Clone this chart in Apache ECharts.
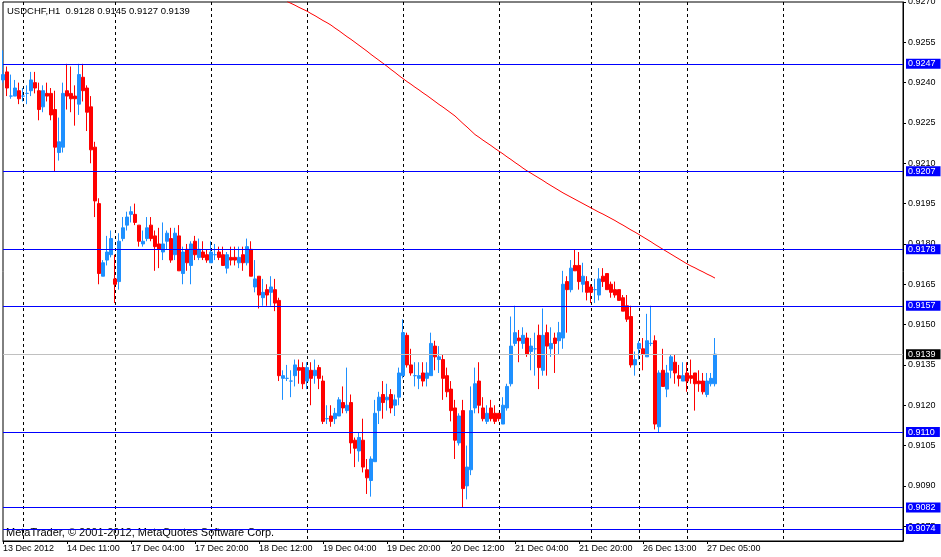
<!DOCTYPE html>
<html><head><meta charset="utf-8">
<script src="https://cdn.jsdelivr.net/npm/echarts@6/dist/echarts.min.js"></script>
<style>html,body{margin:0;padding:0;background:#fff}#c{width:941px;height:557px}</style>
</head><body><div id="c"></div>
<script>
// trading sessions of the H1 chart (day, first hour, last hour)
const sessions = [['13 Dec',19,23],['14 Dec',0,22],['17 Dec',0,23],['18 Dec',0,23],['19 Dec',0,23],
  ['20 Dec',0,23],['21 Dec',0,22],['24 Dec',0,11],['26 Dec',12,23],['27 Dec',0,23],['28 Dec',0,23],['31 Dec',0,6]];
// day separators drawn as dashed verticals
const gridDays = ['14 Dec','17 Dec','18 Dec','19 Dec','20 Dec','21 Dec','24 Dec','26 Dec','27 Dec','28 Dec'];
// bottom axis labels: bar where they sit, and text shown
const tickBars  = ['13 Dec 19:00','14 Dec 11:00','17 Dec 04:00','17 Dec 20:00','18 Dec 12:00','19 Dec 04:00',
  '19 Dec 20:00','20 Dec 12:00','21 Dec 04:00','21 Dec 20:00','26 Dec 13:00','27 Dec 05:00'];
const tickTexts = ['13 Dec 2012','14 Dec 11:00','17 Dec 04:00','17 Dec 20:00','18 Dec 12:00','19 Dec 04:00',
  '19 Dec 20:00','20 Dec 12:00','21 Dec 04:00','21 Dec 20:00','26 Dec 13:00','27 Dec 05:00'];
// price scale labels
const yTicks = [0.9075,0.9090,0.9105,0.9120,0.9135,0.9150,0.9165,0.9180,0.9195,0.9210,0.9225,0.9240,0.9255,0.9270];
// horizontal levels
const levels = [0.9247,0.9207,0.9178,0.9157,0.9110,0.9082,0.9074];

const open = [
0.9241,0.9244,0.9235,0.9235,0.9237,0.9235,0.9236,0.9237,0.9240,0.9237,
0.9231,0.9236,0.9236,0.9230,0.9214,0.9216,0.9237,0.9236,0.9235,0.9232,
0.9242,0.9238,0.9231,0.9216,0.9195,0.9168,0.9174,0.9176,0.9167,0.9166,
0.9182,0.9187,0.9191,0.9191,0.9187,0.9180,0.9182,0.9187,0.9183,0.9180,
0.9177,0.9181,0.9182,0.9176,0.9183,0.9169,0.9178,0.9172,0.9181,0.9175,
0.9177,0.9176,0.9173,0.9176,0.9177,0.9176,0.9171,0.9175,0.9175,0.9173,
0.9176,0.9173,0.9178,0.9164,0.9168,0.9160,0.9163,0.9162,0.9163,0.9159,
0.9130,0.9130,0.9129,0.9131,0.9134,0.9134,0.9129,0.9133,0.9131,0.9134,
0.9129,0.9115,0.9116,0.9115,0.9116,0.9121,0.9118,0.9121,0.9107,0.9103,
0.9107,0.9096,0.9092,0.9099,0.9118,0.9124,0.9122,0.9124,0.9120,0.9123,
0.9131,0.9146,0.9135,0.9131,0.9130,0.9132,0.9130,0.9131,0.9142,0.9137,
0.9137,0.9131,0.9126,0.9119,0.9106,0.9118,0.9090,0.9096,0.9119,0.9129,
0.9119,0.9114,0.9119,0.9117,0.9117,0.9113,0.9119,0.9128,0.9143,0.9145,
0.9143,0.9145,0.9140,0.9141,0.9146,0.9133,0.9147,0.9141,0.9145,0.9144,
0.9145,0.9166,0.9163,0.9172,0.9172,0.9165,0.9166,0.9164,0.9163,0.9161,
0.9168,0.9169,0.9165,0.9163,0.9163,0.9160,0.9157,0.9153,0.9135,0.9141,
0.9141,0.9138,0.9143,0.9144,0.9112,0.9133,0.9126,0.9133,0.9136,0.9131,
0.9129,0.9132,0.9131,0.9132,0.9129,0.9129,0.9124,0.9128,0.9128];
const high = [
0.9252,0.9246,0.9243,0.9241,0.9240,0.9238,0.9239,0.9244,0.9244,0.9240,
0.9239,0.9240,0.9238,0.9237,0.9227,0.9240,0.9247,0.9246,0.9239,0.9247,
0.9247,0.9239,0.9235,0.9218,0.9197,0.9174,0.9183,0.9185,0.9176,0.9184,
0.9190,0.9192,0.9194,0.9195,0.9187,0.9185,0.9190,0.9190,0.9185,0.9186,
0.9188,0.9185,0.9186,0.9186,0.9187,0.9179,0.9180,0.9181,0.9183,0.9182,
0.9181,0.9178,0.9181,0.9180,0.9179,0.9179,0.9177,0.9179,0.9179,0.9179,
0.9179,0.9182,0.9181,0.9174,0.9168,0.9167,0.9165,0.9168,0.9167,0.9160,
0.9133,0.9135,0.9133,0.9137,0.9137,0.9136,0.9136,0.9136,0.9137,0.9135,
0.9131,0.9120,0.9120,0.9119,0.9123,0.9127,0.9134,0.9124,0.9108,0.9110,
0.9115,0.9100,0.9101,0.9122,0.9125,0.9129,0.9128,0.9126,0.9124,0.9134,
0.9152,0.9147,0.9141,0.9136,0.9136,0.9136,0.9136,0.9147,0.9144,0.9142,
0.9139,0.9134,0.9129,0.9122,0.9117,0.9122,0.9105,0.9127,0.9134,0.9136,
0.9123,0.9120,0.9122,0.9120,0.9117,0.9123,0.9128,0.9153,0.9157,0.9148,
0.9149,0.9147,0.9145,0.9147,0.9150,0.9156,0.9150,0.9149,0.9147,0.9151,
0.9170,0.9168,0.9174,0.9178,0.9177,0.9173,0.9168,0.9165,0.9167,0.9171,
0.9171,0.9169,0.9166,0.9166,0.9163,0.9161,0.9161,0.9157,0.9140,0.9144,
0.9145,0.9154,0.9157,0.9146,0.9133,0.9141,0.9135,0.9139,0.9139,0.9135,
0.9136,0.9136,0.9137,0.9132,0.9133,0.9132,0.9132,0.9132,0.9145];
const low = [
0.9240,0.9235,0.9234,0.9235,0.9232,0.9233,0.9232,0.9235,0.9236,0.9226,
0.9229,0.9233,0.9226,0.9207,0.9211,0.9214,0.9230,0.9229,0.9224,0.9228,
0.9233,0.9222,0.9210,0.9190,0.9165,0.9168,0.9172,0.9175,0.9158,0.9163,
0.9181,0.9185,0.9188,0.9187,0.9179,0.9179,0.9181,0.9181,0.9170,0.9171,
0.9174,0.9178,0.9173,0.9174,0.9170,0.9165,0.9170,0.9165,0.9174,0.9174,
0.9174,0.9173,0.9173,0.9174,0.9174,0.9172,0.9169,0.9172,0.9172,0.9171,
0.9170,0.9172,0.9168,0.9162,0.9156,0.9157,0.9157,0.9157,0.9155,0.9129,
0.9122,0.9129,0.9123,0.9127,0.9128,0.9126,0.9126,0.9120,0.9128,0.9126,
0.9113,0.9113,0.9112,0.9113,0.9116,0.9117,0.9117,0.9102,0.9097,0.9099,
0.9095,0.9087,0.9086,0.9099,0.9113,0.9115,0.9118,0.9117,0.9116,0.9120,
0.9130,0.9134,0.9131,0.9127,0.9126,0.9127,0.9127,0.9131,0.9133,0.9132,
0.9122,0.9123,0.9114,0.9100,0.9105,0.9082,0.9085,0.9094,0.9117,0.9117,
0.9114,0.9113,0.9114,0.9113,0.9114,0.9113,0.9118,0.9127,0.9142,0.9136,
0.9141,0.9138,0.9133,0.9131,0.9126,0.9131,0.9131,0.9138,0.9132,0.9139,
0.9141,0.9147,0.9162,0.9170,0.9163,0.9162,0.9159,0.9158,0.9158,0.9159,
0.9164,0.9163,0.9160,0.9160,0.9159,0.9155,0.9151,0.9134,0.9131,0.9137,
0.9133,0.9138,0.9142,0.9111,0.9110,0.9127,0.9123,0.9130,0.9128,0.9127,
0.9129,0.9125,0.9128,0.9118,0.9125,0.9124,0.9123,0.9127,0.9127];
const close = [
0.9243,0.9238,0.9235,0.9238,0.9234,0.9235,0.9236,0.9241,0.9238,0.9230,
0.9237,0.9235,0.9228,0.9216,0.9218,0.9236,0.9235,0.9234,0.9234,0.9243,
0.9237,0.9229,0.9215,0.9196,0.9169,0.9173,0.9177,0.9182,0.9165,0.9181,
0.9186,0.9190,0.9192,0.9188,0.9181,0.9181,0.9186,0.9182,0.9179,0.9178,
0.9180,0.9184,0.9174,0.9184,0.9170,0.9177,0.9173,0.9180,0.9176,0.9178,
0.9175,0.9174,0.9177,0.9176,0.9175,0.9172,0.9176,0.9174,0.9174,0.9175,
0.9173,0.9179,0.9168,0.9167,0.9161,0.9162,0.9161,0.9164,0.9158,0.9131,
0.9131,0.9130,0.9129,0.9135,0.9133,0.9128,0.9134,0.9130,0.9133,0.9130,
0.9114,0.9115,0.9114,0.9117,0.9122,0.9119,0.9120,0.9106,0.9104,0.9108,
0.9097,0.9093,0.9100,0.9117,0.9123,0.9121,0.9123,0.9119,0.9122,0.9132,
0.9147,0.9135,0.9132,0.9131,0.9131,0.9129,0.9132,0.9143,0.9138,0.9138,
0.9130,0.9125,0.9118,0.9107,0.9116,0.9089,0.9097,0.9118,0.9128,0.9120,
0.9115,0.9117,0.9115,0.9114,0.9115,0.9120,0.9127,0.9142,0.9147,0.9144,
0.9146,0.9139,0.9142,0.9141,0.9134,0.9146,0.9142,0.9143,0.9143,0.9147,
0.9165,0.9163,0.9171,0.9170,0.9166,0.9168,0.9162,0.9162,0.9163,0.9167,
0.9166,0.9163,0.9162,0.9161,0.9159,0.9155,0.9152,0.9135,0.9137,0.9143,
0.9139,0.9144,0.9143,0.9113,0.9132,0.9127,0.9132,0.9138,0.9132,0.9130,
0.9131,0.9129,0.9130,0.9128,0.9128,0.9125,0.9129,0.9130,0.9139];
// red moving average, first value at bar '18 Dec 19:00'
const maFrom = '18 Dec 19:00';
const ma = [
0.92702,0.92695,0.92688,0.92680,0.92673,0.92666,0.92657,0.92649,0.92640,0.92631,
0.92623,0.92614,0.92603,0.92593,0.92582,0.92571,0.92561,0.92550,0.92539,0.92528,
0.92517,0.92505,0.92494,0.92483,0.92472,0.92461,0.92449,0.92438,0.92426,0.92415,
0.92404,0.92394,0.92383,0.92373,0.92362,0.92352,0.92341,0.92330,0.92319,0.92309,
0.92298,0.92287,0.92276,0.92262,0.92248,0.92235,0.92221,0.92207,0.92197,0.92186,
0.92176,0.92166,0.92155,0.92145,0.92135,0.92124,0.92114,0.92103,0.92093,0.92082,
0.92072,0.92063,0.92054,0.92045,0.92036,0.92026,0.92017,0.92008,0.91999,0.91990,
0.91982,0.91974,0.91966,0.91958,0.91950,0.91942,0.91934,0.91926,0.91918,0.91911,
0.91903,0.91895,0.91887,0.91878,0.91870,0.91861,0.91852,0.91844,0.91835,0.91826,
0.91817,0.91808,0.91798,0.91789,0.91780,0.91771,0.91762,0.91753,0.91744,0.91735,
0.91726,0.91718,0.91711,0.91703,0.91696,0.91688,0.91681,0.91673];

const pad = h => (h < 10 ? '0' : '') + h + ':00';
const categories = [];
const dayStart = {};
sessions.forEach(([d, a, b]) => {
  dayStart[categories.length] = d;
  for (let h = a; h <= b; h++) categories.push(d + ' ' + pad(h));
});
const gridIdx = new Set(Object.keys(dayStart).map(Number).filter(i => gridDays.includes(dayStart[i])));
const tickIdx = {};
tickBars.forEach((c, k) => { tickIdx[categories.indexOf(c)] = tickTexts[k]; });

const n = open.length;
const ohlc = open.map((o, i) => [o, close[i], low[i], high[i]]);
const maStart = categories.indexOf(maFrom);
const maData = categories.map((c, i) => (i >= maStart && i - maStart < ma.length) ? ma[i - maStart] : null);

const FONT = 'Liberation Sans';
const YMIN = 0.90695, YMAX = 0.9270;
const f4 = v => Number(v).toFixed(4);

// an extra price axis whose split lines draw horizontal price lines with boxed labels
const lineAxis = (values, lineColor, boxColor) => ({
  type: 'value', position: 'right', min: YMIN, max: YMAX, z: 5,
  axisLine: { show: false },
  axisTick: { show: false, customValues: values },
  axisLabel: {
    customValues: values, formatter: v => f4(v), margin: 3,
    backgroundColor: boxColor, color: '#fff', fontFamily: FONT, fontSize: 9, lineHeight: 9,
    padding: [1, 5, 0, 2]
  },
  splitLine: { show: true, lineStyle: { color: lineColor, width: 1, type: 'solid' } }
});

const chart = echarts.init(document.getElementById('c'));
chart.setOption({
  animation: false,
  backgroundColor: '#ffffff',
  title: {
    text: 'USDCHF,H1  ' + [open[n-1], high[n-1], low[n-1], close[n-1]].map(f4).join(' '),
    left: 7, top: 6, padding: 0,
    textStyle: { fontSize: 9.5, fontWeight: 'normal', color: '#000', fontFamily: FONT }
  },
  graphic: [{
    type: 'text', left: 6, top: 527, silent: true,
    style: { text: 'MetaTrader, © 2001-2012, MetaQuotes Software Corp.', font: "11px 'Liberation Sans'", fill: '#000' }
  }],
  grid: { left: 3, right: 38, top: 2, bottom: 16, show: true, borderColor: '#000', borderWidth: 1,
          containLabel: false, outerBoundsMode: 'none' },
  xAxis: {
    type: 'category', data: categories, boundaryGap: false,
    axisLine: { lineStyle: { color: '#000', width: 1 } },
    axisTick: { show: true, length: 3, interval: i => i in tickIdx, lineStyle: { color: '#000' } },
    axisLabel: {
      interval: i => i in tickIdx, formatter: (v, i) => tickIdx[i] || '',
      align: 'left', margin: 3, fontSize: 9, color: '#000', fontFamily: FONT
    },
    splitLine: { show: true, interval: i => gridIdx.has(i), lineStyle: { color: '#000', width: 1, type: [3, 3] } }
  },
  yAxis: [
    {
      type: 'value', position: 'right', min: YMIN, max: YMAX,
      axisLine: { show: true, lineStyle: { color: '#000' } },
      axisTick: { show: true, length: 3, customValues: yTicks, lineStyle: { color: '#000' } },
      axisLabel: { customValues: yTicks, formatter: v => f4(v), margin: 5, fontSize: 9, color: '#000', fontFamily: FONT },
      splitLine: { show: false }
    },
    lineAxis(levels, '#0000FF', '#0000FF'),
    lineAxis([close[n-1]], '#C0C0C0', '#000000')
  ],
  series: [
    {
      type: 'candlestick', data: ohlc, barWidth: 3, silent: true, clip: true, yAxisIndex: 0,
      itemStyle: { color: '#1E90FF', color0: '#FF0000', borderColor: '#1E90FF', borderColor0: '#FF0000', borderColorDoji: '#1E90FF', borderWidth: 1 }
    },
    {
      type: 'line', data: maData, symbol: 'none', showSymbol: false, silent: true, clip: true, yAxisIndex: 0,
      lineStyle: { color: '#FF0000', width: 1 }
    }
  ]
});
</script>
</body></html>
